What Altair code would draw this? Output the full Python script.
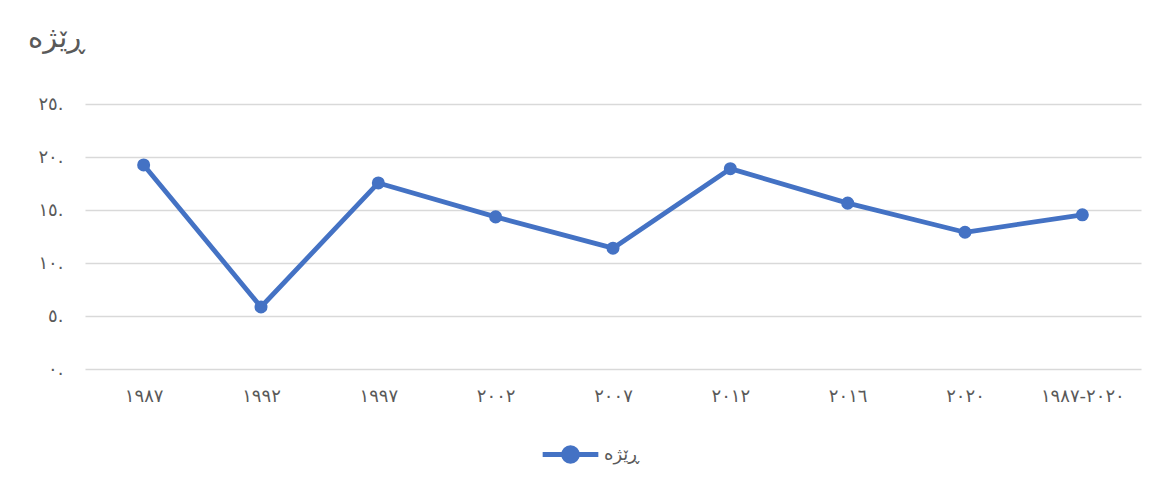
import json
import altair as alt
import pandas as pd

categories = ["١٩٨٧", "١٩٩٢", "١٩٩٧", "٢٠٠٢", "٢٠٠٧", "٢٠١٢", "٢٠١٦", "٢٠٢٠", "٢٠٢٠-١٩٨٧"]
values = [19.25, 5.85, 17.55, 14.35, 11.4, 18.9, 15.65, 12.9, 14.55]
y_tick_values = [0, 5, 10, 15, 20, 25]
y_tick_labels = ["٠.", "٥.", "١٠.", "١٥.", "٢٠.", "٢٥."]
series_name = "ڕێژە"
title_text = "ڕێژە"

df = pd.DataFrame({"cat": categories, "value": values, "series": [series_name] * len(categories)})

label_expr = json.dumps(y_tick_labels, ensure_ascii=False) + "[round(datum.value / 5)]"

COLOR = "#4472C4"
FONT = "DejaVu Sans"

chart = alt.Chart(df).mark_line(
    color=COLOR, strokeWidth=4.8, strokeCap="round", strokeJoin="round",
    point=alt.OverlayMarkDef(filled=True, size=170, color=COLOR, opacity=1),
).encode(
    x=alt.X("cat:N", sort=None, title=None,
            scale=alt.Scale(type="point", padding=0.5),
            axis=alt.Axis(labelAngle=0, ticks=False, domain=False, grid=False,
                          labelPadding=18, labelFontSize=18, labelColor="#595959",
                          labelFont=FONT)),
    y=alt.Y("value:Q", title=None,
            scale=alt.Scale(domain=[0, 25], nice=False, zero=True),
            axis=alt.Axis(values=y_tick_values, labelExpr=label_expr, ticks=False,
                          domain=False, grid=True, gridColor="#D9D9D9", gridWidth=1.3,
                          labelPadding=22, labelFontSize=18, labelColor="#595959",
                          labelFont=FONT)),
    color=alt.Color("series:N", scale=alt.Scale(range=[COLOR]),
                    legend=alt.Legend(title=None, orient="none", legendX=455, legendY=320,
                                      symbolType="M-1,0H1M0.25,0A0.25,0.25 0 1,1 -0.25,0A0.25,0.25 0 1,1 0.25,0Z",
                                      symbolSize=3100, symbolStrokeWidth=4.8,
                                      symbolFillColor=COLOR, symbolStrokeColor=COLOR,
                                      labelFontSize=18, labelColor="#595959", labelFont=FONT,
                                      labelOffset=3, labelLimit=200)),
).properties(
    width=1056, height=265,
    title=alt.TitleParams(title_text, anchor="start", frame="group", dx=-57, dy=-38,
                          fontSize=29, fontWeight="normal", color="#595959", font=FONT),
    padding={"left": 77, "top": 96, "right": 4, "bottom": 110},
    autosize=alt.AutoSizeParams(type="none"),
).configure(background="white").configure_view(stroke=None)

chart.save("out.html", embed_options={"renderer": "svg", "actions": False})
